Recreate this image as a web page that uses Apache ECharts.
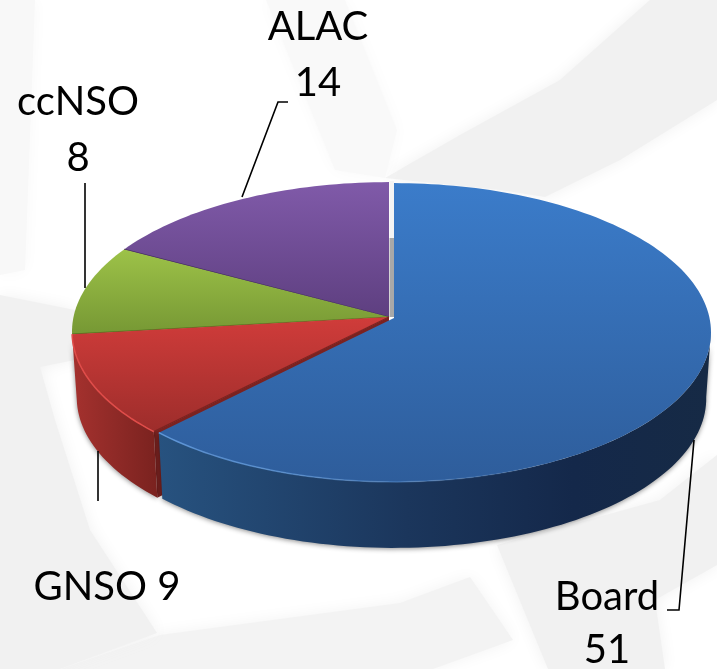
<!DOCTYPE html>
<html><head><meta charset="utf-8">
<style>html,body{margin:0;padding:0;background:#fff}#c{width:717px;height:669px}</style>
<script src="https://cdn.jsdelivr.net/npm/echarts@6/dist/echarts.min.js"></script>
</head><body><div id="c"></div>
<script>
// ---- data ----
const categories = ['Board', 'GNSO', 'ccNSO', 'ALAC'];
const values = [51, 9, 8, 14];

// ---- layout and style ----
const PIE = { f: 315.5, g: 148, k: 0.097, depth: 66, bottomScale: 0.985 };
const APEX = { base: [389, 317], Board: [394, 318] };
const DRAW_ORDER = ['ALAC', 'ccNSO', 'GNSO', 'Board'];
const FONT = 'Lato, "Open Sans", sans-serif';
const FS = 40;
const LABELS = {
  ALAC:  { lines: [[318, 27], [318, 83]], leader: [[288, 102], [278, 102], [242, 197]] },
  ccNSO: { lines: [[78, 102], [78, 158]], leader: [[85, 183], [85, 288]] },
  GNSO:  { lines: [[107, 587]], oneLine: true, leader: [[98, 451], [98, 501]] },
  Board: { lines: [[607, 597], [607, 650]], leader: [[667, 610], [679, 610], [694, 440]] }
};
const STYLE = {
  Board: { top: ['#3b7cca', '#2e5d9b'], edge: null,
           side: [[0, '#27527f'], [0.45, '#1b365c'], [0.75, '#14284a'], [1, '#162a45']],
           rim: '#5f98da', cut: '#1b365c' },
  GNSO:  { top: ['#d03c3a', '#9d2d2b'], edge: '#7c2220',
           side: [[0, '#a5312e'], [0.5, '#8f2a27'], [1, '#7a221f']],
           rim: '#e04c49', cut: '#7c2220' },
  ccNSO: { top: ['#9dc248', '#769834'], edge: '#55731f' },
  ALAC:  { top: ['#805aa9', '#5e3f80'], edge: '#452c62' }
};
const WATERMARK = [
  { c: '#f1f1f1', p: [[650,0],[717,0],[717,100],[620,160],[545,197],[500,190],[385,178],[460,135],[560,80]] },
  { c: '#f1f1f1', p: [[497,545],[548,669],[665,669],[655,600],[717,565],[717,455],[660,500]] },
  { c: '#f3f3f3', p: [[160,635],[400,603],[470,577],[513,640],[433,669],[60,669]] },
  { c: '#f1f1f1', p: [[0,295],[75,310],[75,360],[40,367],[55,420],[90,530],[157,633],[60,669],[0,669]] },
  { c: '#f8f8f8', p: [[0,0],[35,0],[25,270],[0,275]] },
  { c: '#f9f9f9', p: [[266,0],[345,0],[397,130],[385,178],[335,170]] }
];

const total = values.reduce((a, b) => a + b, 0);
const starts = {}, ends = {};
let acc = 0;
categories.forEach((n, i) => { starts[n] = acc / total * 360; acc += values[i]; ends[n] = acc / total * 360; });

function proj(deg, apex, lower) {
  const t = deg * Math.PI / 180, s = Math.sin(t), c = Math.cos(t), den = 1 + PIE.k * c;
  const scale = lower ? PIE.bottomScale : 1;
  return [apex[0] + PIE.f * s / den * scale, apex[1] - PIE.g * c / den + (lower ? PIE.depth : 0)];
}
function arc(a, b, apex, lower) {
  const out = [], n = Math.max(2, Math.ceil(Math.abs(b - a) / 1.5));
  for (let i = 0; i <= n; i++) out.push(proj(a + (b - a) * i / n, apex, lower));
  return out;
}
function grad(dir, stops) {
  return { type: 'linear', x: 0, y: 0, x2: dir === 'h' ? 1 : 0, y2: dir === 'h' ? 0 : 1,
    colorStops: stops.map(s => ({ offset: s[0], color: s[1] })) };
}

function renderItem(params, api) {
  const name = DRAW_ORDER[api.value(0)];
  const value = values[categories.indexOf(name)];
  const st = STYLE[name], a = starts[name], b = ends[name];
  const apex = name === 'Board' ? APEX.Board : APEX.base;
  const ch = [];
  if (name === 'GNSO') {
    const p0 = proj(a, apex), p1 = proj(a, apex, true);
    ch.push({ type: 'polygon', shape: { points: [apex, p0, p1, [apex[0], apex[1] + PIE.depth]] }, style: { fill: st.cut } });
  }
  const sa = Math.max(a, 95), sb = Math.min(b, 265);
  if (sb > sa && st.side) {
    const pts = arc(sa, sb, apex).concat(arc(sb, sa, apex, true));
    ch.push({ type: 'polygon', shape: { points: pts },
      style: { fill: grad('h', st.side), shadowBlur: 5, shadowColor: 'rgba(0,0,0,0.45)', shadowOffsetY: 1 } });
  }
  ch.push({ type: 'polygon', shape: { points: [apex].concat(arc(a, b, apex)) },
    style: { fill: grad('v', [[0, st.top[0]], [1, st.top[1]]]) } });
  if (st.edge) {
    ch.push({ type: 'polyline', shape: { points: [apex, proj(a, apex)] }, style: { stroke: st.edge, lineWidth: 1.2, fill: null } });
  }
  if (st.rim) {
    const ra = name === 'Board' ? 150 : a, rb = b;
    ch.push({ type: 'polyline', shape: { points: arc(ra, rb, apex) },
      style: { fill: null, lineWidth: 1.5,
        stroke: { type: 'linear', x: 1, y: 0, x2: 0, y2: 0, colorStops: [
          { offset: 0, color: name === 'Board' ? 'rgba(95,152,218,0)' : st.rim }, { offset: 1, color: st.rim }] } } });
  }
  if (name === 'ALAC') {
    ch.push({ type: 'rect', shape: { x: apex[0] + 0.5, y: apex[1] - 136, width: 4.5, height: 57 }, style: { fill: '#f4f4f4' } });
    ch.push({ type: 'rect', shape: { x: apex[0] + 0.5, y: apex[1] - 79, width: 4.5, height: 79 }, style: { fill: '#a8a8a8' } });
  }
  const lab = LABELS[name];
  ch.push({ type: 'polyline', shape: { points: lab.leader }, style: { fill: null, stroke: '#000', lineWidth: 1.6 }, z2: 5 });
  const texts = lab.oneLine ? [name + ' ' + value] : [name, String(value)];
  texts.forEach((txt, i) => {
    ch.push({ type: 'text', z2: 6, style: { text: txt, x: lab.lines[i][0], y: lab.lines[i][1], fill: '#000',
      fontSize: FS, fontFamily: FONT, align: 'center', verticalAlign: 'middle' } });
  });
  return { type: 'group', children: ch };
}

const chart = echarts.init(document.getElementById('c'), null, { renderer: 'canvas' });
chart.setOption({
  animation: false,
  backgroundColor: '#ffffff',
  graphic: WATERMARK.map(w => ({
    type: 'polygon', silent: true, z: -10,
    shape: { points: w.p },
    style: { fill: w.c, shadowBlur: 16, shadowColor: w.c }
  })),
  series: [{
    type: 'custom', coordinateSystem: 'none', silent: true, z: 5,
    renderItem,
    data: DRAW_ORDER.map((n, i) => [i, values[categories.indexOf(n)]])
  }]
});
</script></body></html>
